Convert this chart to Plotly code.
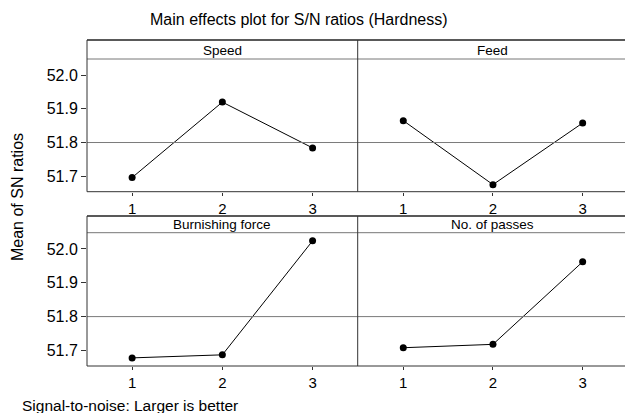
import plotly.graph_objects as go

# Main effects of each factor on the mean S/N ratio (hardness)
factors = ["Speed", "Feed", "Burnishing force", "No. of passes"]
levels = [1, 2, 3]
speed_sn = [51.696, 51.920, 51.784]
feed_sn = [51.865, 51.675, 51.858]
force_sn = [51.678, 51.687, 52.024]
passes_sn = [51.708, 51.718, 51.962]
overall_mean = 51.8
y_ticks = [51.7, 51.8, 51.9, 52.0]

W, H = 625, 413


def px_x(x):
    return x / W


def px_y(y):
    return 1 - y / H


FONT = "Liberation Sans, Arial, Helvetica, sans-serif"

# panel geometry in pixels: (left, right) columns and (strip_top, data_top, bottom) rows
cols = [(87, 357.7), (357.7, 625)]
rows = [(40, 59, 191.7), (216, 232.7, 366)]
xranges = [[0.5, 3.5], [0.492, 3.472]]
yrange = [51.654, 52.048]

series = [speed_sn, feed_sn, force_sn, passes_sn]

fig = go.Figure()
shapes = []
annotations = []

for i, (name, vals) in enumerate(zip(factors, series)):
    r, c = divmod(i, 2)
    idx = i + 1
    xa = "x" if idx == 1 else f"x{idx}"
    ya = "y" if idx == 1 else f"y{idx}"
    xl, xr = cols[c]
    st, dt, bt = rows[r]

    fig.add_trace(go.Scatter(
        x=levels, y=vals, mode="lines+markers",
        line=dict(color="black", width=1),
        marker=dict(color="black", size=7),
        xaxis=xa, yaxis=ya, showlegend=False,
    ))

    xkey = "xaxis" if idx == 1 else f"xaxis{idx}"
    ykey = "yaxis" if idx == 1 else f"yaxis{idx}"
    fig.layout[xkey] = dict(
        domain=[px_x(xl), min(px_x(xr), 1.0)],
        range=xranges[c], anchor=ya,
        tickvals=levels, ticktext=[str(v) for v in levels],
        ticks="outside", ticklen=3, tickcolor="#333", tickwidth=1,
        tickfont=dict(family=FONT, size=15, color="black"),
        showgrid=False, zeroline=False, showline=False,
    )
    fig.layout[ykey] = dict(
        domain=[px_y(bt), px_y(dt)],
        range=yrange, anchor=xa,
        tickvals=y_ticks if c == 0 else [],
        ticktext=[f"{v:.1f}" for v in y_ticks] if c == 0 else [],
        ticks="outside" if c == 0 else "", ticklen=5, tickcolor="#333", tickwidth=1,
        tickfont=dict(family=FONT, size=16, color="black"),
        showticklabels=(c == 0),
        showgrid=False, zeroline=False, showline=False,
    )

    # overall mean reference line
    shapes.append(dict(type="line", xref=f"{xa} domain", yref=ya,
                       x0=0, x1=1, y0=overall_mean, y1=overall_mean,
                       line=dict(color="#7a7a7a", width=1)))

    # strip and label
    shapes.append(dict(type="line", xref="paper", yref="paper",
                       x0=px_x(xl), x1=px_x(xr), y0=px_y(dt), y1=px_y(dt),
                       line=dict(color="#777", width=1)))
    annotations.append(dict(text=name, xref="paper", yref="paper",
                            x=px_x((xl + (627 if c == 1 else xr)) / 2), y=px_y((st + dt) / 2 + 0.5),
                            showarrow=False, xanchor="center", yanchor="middle",
                            font=dict(family=FONT, size=13.5, color="black")))

# outer panel frames (top, left, bottom, middle divider)
for st, dt, bt in rows:
    shapes.append(dict(type="line", xref="paper", yref="paper",
                       x0=px_x(87), x1=1, y0=px_y(st), y1=px_y(st),
                       line=dict(color="#222", width=1.3)))
    shapes.append(dict(type="line", xref="paper", yref="paper",
                       x0=px_x(87), x1=1, y0=px_y(bt), y1=px_y(bt),
                       line=dict(color="#333", width=1)))
    for xv in (87, 357.7):
        shapes.append(dict(type="line", xref="paper", yref="paper",
                           x0=px_x(xv), x1=px_x(xv), y0=px_y(st), y1=px_y(bt),
                           line=dict(color="#333", width=1)))

annotations.append(dict(text="Main effects plot for S/N ratios (Hardness)",
                        xref="paper", yref="paper", x=px_x(299), y=px_y(20),
                        showarrow=False, xanchor="center", yanchor="middle",
                        font=dict(family=FONT, size=16, color="black")))
annotations.append(dict(text="Mean of SN ratios", xref="paper", yref="paper",
                        x=px_x(17), y=px_y(197), textangle=-90,
                        showarrow=False, xanchor="center", yanchor="middle",
                        font=dict(family=FONT, size=16, color="black")))
annotations.append(dict(text="Signal-to-noise: Larger is better", xref="paper", yref="paper",
                        x=px_x(20), y=px_y(405), showarrow=False,
                        xanchor="left", yanchor="middle",
                        font=dict(family=FONT, size=15.5, color="black")))

fig.update_layout(
    width=W, height=H,
    margin=dict(l=0, r=0, t=0, b=0),
    paper_bgcolor="white", plot_bgcolor="white",
    shapes=shapes, annotations=annotations,
)

fig.write_html("out.html")
